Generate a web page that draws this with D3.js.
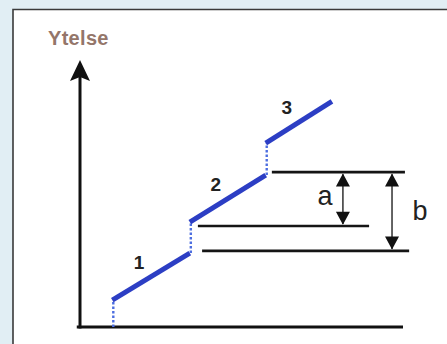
<!DOCTYPE html>
<html>
<head>
<meta charset="utf-8">
<script src="https://cdn.jsdelivr.net/npm/d3@7"></script>
<style>
  html, body { margin: 0; padding: 0; background: #e1eef4; }
  #chart { width: 447px; height: 344px; }
  svg { display: block; font-family: "Liberation Sans", Arial, sans-serif; }
</style>
</head>
<body>
<div id="chart"></div>
<script>
// ---- data (diagram units: 0..100 on both axes) ----
const SEGMENTS = ['1', '2', '3'];
const SEG_START = [[10, 10.1], [34, 39.3], [57.5, 68.9]];
const SEG_END = [[34, 27.7], [57.5, 56.9], [78, 84.5]];

const REF_LEVELS = [58, 37.8, 28.5];
const REF_FROM = [59.4, 36.5, 37.8];
const REF_TO = [100.6, 89.5, 101.9];

const DIMS = ['a', 'b'];
const DIM_X = [81.4, 96.6];
const DIM_TOP = [58, 58];
const DIM_BOTTOM = [37.8, 28.5];

const Y_LABEL = 'Ytelse';

const W = 447, H = 344;
const BLUE = '#2c3ec4';

const svg = d3.select('#chart').append('svg')
  .attr('width', W).attr('height', H);

// white panel with dark top/left edge
svg.append('rect').attr('x', 13).attr('y', 9.5)
  .attr('width', W).attr('height', H).attr('fill', '#fff');
svg.append('path')
  .attr('d', `M13,${H} V9.5 H${W}`)
  .attr('fill', 'none').attr('stroke', '#3a3a3a').attr('stroke-width', 1.6);

const x = d3.scaleLinear().domain([0, 100]).range([80, 403]);
const y = d3.scaleLinear().domain([0, 100]).range([327, 60]);

const g = svg.append('g');

// axes
g.append('line')
  .attr('x1', x(-1)).attr('x2', x(100))
  .attr('y1', y(0)).attr('y2', y(0))
  .attr('stroke', '#111').attr('stroke-width', 3);
g.append('line')
  .attr('x1', x(0)).attr('x2', x(0))
  .attr('y1', y(0) + 1.5).attr('y2', y(100) + 16)
  .attr('stroke', '#111').attr('stroke-width', 3);
const tip = [x(0), y(100)];
g.append('path')
  .attr('d', `M${tip[0]},${tip[1]} L${tip[0] + 10},${tip[1] + 21} L${tip[0]},${tip[1] + 17} L${tip[0] - 10},${tip[1] + 21} Z`)
  .attr('fill', '#111');

g.append('text')
  .attr('x', x(0) - 32).attr('y', y(100) - 15)
  .attr('font-size', 20).attr('font-weight', 'bold').attr('letter-spacing', 0.3)
  .attr('fill', '#94766a')
  .text(Y_LABEL);

// dotted risers: from baseline to first segment, then between segments
const risers = SEGMENTS.map((s, i) => ({
  x: SEG_START[i][0],
  y0: i === 0 ? 0 : SEG_END[i - 1][1],
  y1: SEG_START[i][1],
}));
g.selectAll('line.riser').data(risers).join('line')
  .attr('class', 'riser')
  .attr('x1', d => x(d.x) + 1).attr('x2', d => x(d.x) + 1)
  .attr('y1', d => y(d.y0)).attr('y2', d => y(d.y1))
  .attr('stroke', '#4d6ee0').attr('stroke-width', 2.4)
  .attr('stroke-dasharray', '2.5,2');

// segments
g.selectAll('line.seg').data(SEGMENTS).join('line')
  .attr('class', 'seg')
  .attr('x1', (d, i) => x(SEG_START[i][0])).attr('y1', (d, i) => y(SEG_START[i][1]))
  .attr('x2', (d, i) => x(SEG_END[i][0])).attr('y2', (d, i) => y(SEG_END[i][1]))
  .attr('stroke', BLUE).attr('stroke-width', 5).attr('stroke-linecap', 'butt');

g.selectAll('text.seg-label').data(SEGMENTS).join('text')
  .attr('class', 'seg-label')
  .attr('x', (d, i) => (x(SEG_START[i][0]) + x(SEG_END[i][0])) / 2 - 12)
  .attr('y', (d, i) => (y(SEG_START[i][1]) + y(SEG_END[i][1])) / 2 - 8)
  .attr('text-anchor', 'middle')
  .attr('font-size', 19).attr('font-weight', 'bold').attr('fill', '#222')
  .text(d => d);

// reference levels
g.selectAll('line.ref').data(REF_LEVELS).join('line')
  .attr('class', 'ref')
  .attr('x1', (d, i) => x(REF_FROM[i])).attr('x2', (d, i) => x(REF_TO[i]))
  .attr('y1', d => y(d)).attr('y2', d => y(d))
  .attr('stroke', '#151515').attr('stroke-width', 2.6);

// dimension arrows
function head(px, py, dir) {
  // dir = 1 points down, -1 points up
  const len = 13, hw = 7;
  return `M${px},${py} L${px - hw},${py - dir * len} L${px + hw},${py - dir * len} Z`;
}
const dims = g.selectAll('g.dim').data(DIMS).join('g').attr('class', 'dim');
dims.append('line')
  .attr('x1', (d, i) => x(DIM_X[i])).attr('x2', (d, i) => x(DIM_X[i]))
  .attr('y1', (d, i) => y(DIM_TOP[i]) + 2).attr('y2', (d, i) => y(DIM_BOTTOM[i]) - 2)
  .attr('stroke', '#222').attr('stroke-width', 1.4);
dims.append('path')
  .attr('d', (d, i) => head(x(DIM_X[i]), y(DIM_TOP[i]) + 1.3, -1) + head(x(DIM_X[i]), y(DIM_BOTTOM[i]) - 1.3, 1))
  .attr('fill', '#111');
dims.append('text')
  .attr('x', (d, i) => x(DIM_X[i]) + (i === 0 ? -18 : 28))
  .attr('y', (d, i) => (y(DIM_TOP[i]) + y(DIM_BOTTOM[i])) / 2 + (i === 0 ? 6 : 8))
  .attr('text-anchor', 'middle')
  .attr('font-size', 27).attr('fill', '#222')
  .text(d => d);
</script>
</body>
</html>
